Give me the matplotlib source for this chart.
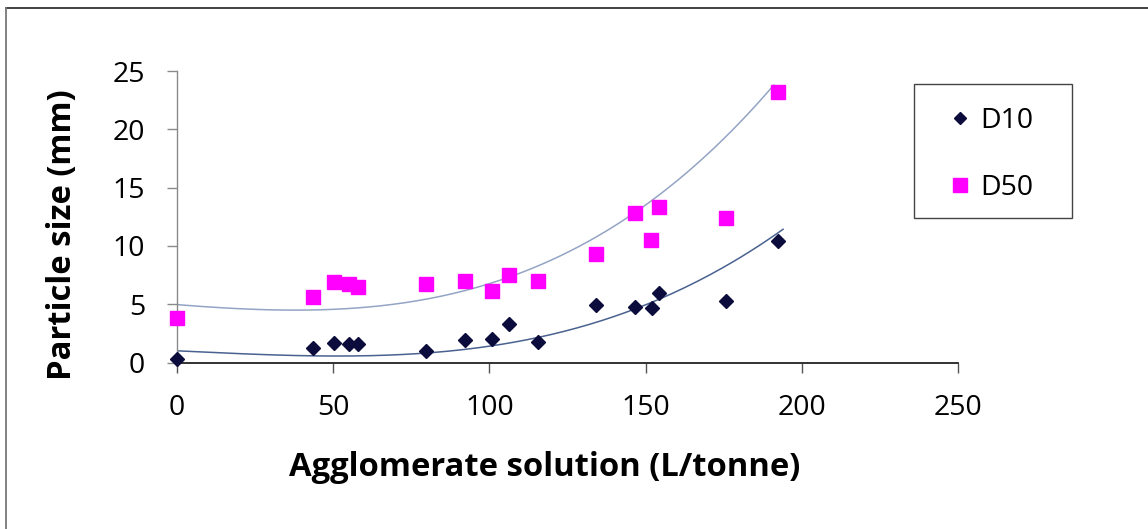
import matplotlib
matplotlib.use('Agg')
import matplotlib.pyplot as plt
from matplotlib.lines import Line2D
from matplotlib.patches import Rectangle
import numpy as np

plt.rcParams['font.family'] = ['Open Sans', 'DejaVu Sans']

W, H = 1148, 529
DPI = 100

X_LABEL = 'Agglomerate solution (L/tonne)'
Y_LABEL = 'Particle size (mm)'

# D10 (diamonds)
d10_x = [0, 43.6, 50.2, 55.2, 58, 79.7, 92.2, 100.8, 106.3, 115.7,
         134, 146.5, 152, 154.4, 175.7, 192.4]
d10_y = [0.27, 1.28, 1.7, 1.61, 1.58, 1.0, 1.93, 2.0, 3.3, 1.8,
         4.92, 4.73, 4.66, 5.96, 5.28, 10.4]

# D50 (squares)
d50_x = [0, 43.6, 50.2, 55.2, 58, 79.7, 92.2, 100.8, 106.3, 115.7,
         134, 146.5, 151.8, 154.4, 175.7, 192.3]
d50_y = [3.84, 5.65, 6.9, 6.73, 6.45, 6.73, 7.0, 6.16, 7.5, 7.0,
         9.3, 12.85, 10.5, 13.3, 12.4, 23.2]

# trend curves (smoothed with a cubic)
d10_trend_x = [0, 50, 80, 94, 115, 147, 176, 194]
d10_trend_y = [0.99, 0.56, 0.87, 1.27, 1.93, 4.56, 8.6, 11.28]
d50_trend_x = [0, 25, 50, 71, 94, 115, 135, 146.5, 167, 191]
d50_trend_y = [4.8, 4.75, 4.73, 5.08, 6.3, 7.5, 11.1, 12.85, 17.8, 23.45]

X_TICKS = [0, 50, 100, 150, 200, 250]
Y_TICKS = [0, 5, 10, 15, 20, 25]

D10_COLOR = '#0c0c3c'
D50_COLOR = '#ff00ff'


def px(x, y):
    """pixel (from top-left) -> figure fraction"""
    return x / W, 1 - y / H


def trend(xs, ys, deg=3):
    coef = np.polyfit(xs, ys, deg)
    xx = np.linspace(min(xs), max(xs), 200)
    return xx, np.polyval(coef, xx)


def main():
    fig = plt.figure(figsize=(W / DPI, H / DPI), dpi=DPI)
    left, bottom = px(177, 362.5)
    right, top = px(958, 71)
    ax = fig.add_axes([left, bottom, right - left, top - bottom])

    tx, ty = trend(d10_trend_x, d10_trend_y)
    ax.plot(tx, ty, color='#4a6290', lw=1.1, zorder=2)
    tx, ty = trend(d50_trend_x, d50_trend_y)
    ax.plot(tx, ty, color='#94a4c4', lw=1.1, zorder=2)

    ax.plot(d10_x, d10_y, 'D', color=D10_COLOR, ms=6.8, ls='none',
            clip_on=False, zorder=3, label='D10')
    ax.plot(d50_x, d50_y, 's', color=D50_COLOR, ms=10.5, ls='none',
            clip_on=False, zorder=3, label='D50')

    ax.set_xlim(0, 250)
    ax.set_ylim(0, 25)
    ax.set_xticks(X_TICKS)
    ax.set_yticks(Y_TICKS)
    for s in ('top', 'right'):
        ax.spines[s].set_visible(False)
    ax.spines['left'].set_color('#8a8a8a')
    ax.spines['bottom'].set_color('#222222')
    ax.spines['left'].set_linewidth(1.0)
    ax.spines['bottom'].set_linewidth(1.3)
    ax.tick_params(axis='y', length=7, width=1.0, color='#8a8a8a',
                   labelsize=20.5, pad=16)
    ax.tick_params(axis='x', length=7, width=1.0, color='#555555',
                   labelsize=20.5, pad=16)

    ax.legend(loc='upper left', bbox_to_anchor=px(949, 107),
              bbox_transform=fig.transFigure, fontsize=20.5,
              frameon=False, handlelength=0.8, handletextpad=0.3,
              labelspacing=1.37, borderpad=0, borderaxespad=0,
              markerscale=0.9)
    x0, y0 = px(914, 218)
    x1, y1 = px(1072, 84)
    fig.add_artist(Rectangle((x0, y0), x1 - x0, y1 - y0,
                             transform=fig.transFigure, fill=False,
                             edgecolor='#444444', lw=1.0))

    fig.text(*px(545, 468), X_LABEL, ha='center', va='center',
             fontsize=23.6, fontweight='bold')
    fig.text(*px(63, 235), Y_LABEL, ha='center', va='center',
             rotation=90, fontsize=23.6, fontweight='bold')

    # outer chart frame (top and left edges visible)
    fig.add_artist(Line2D([6 / W, 1], [1 - 8 / H, 1 - 8 / H],
                          transform=fig.transFigure, color='#333333', lw=1.3))
    fig.add_artist(Line2D([6 / W, 6 / W], [1 - 8 / H, 0],
                          transform=fig.transFigure, color='#777777', lw=1.3))

    fig.savefig('out.png', dpi=DPI)
    plt.close(fig)


if __name__ == '__main__':
    main()
